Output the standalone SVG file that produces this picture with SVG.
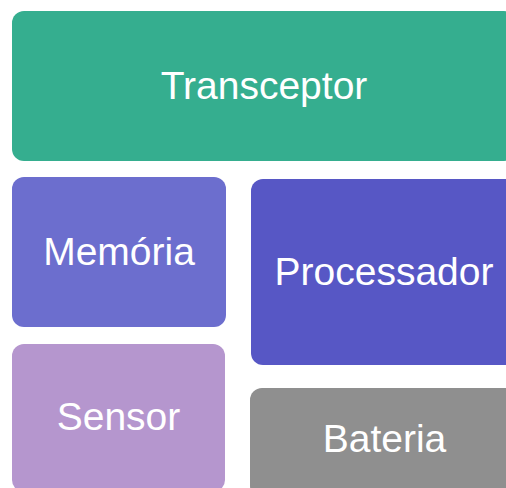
<svg xmlns="http://www.w3.org/2000/svg" width="506" height="488" viewBox="0 0 506 488">
  <style>
    .box { stroke: none; }
    .label { fill: #ffffff; font-family: "Liberation Sans", Arial, sans-serif; font-size: 39px; text-anchor: middle; }
  </style>
  <rect width="506" height="488" fill="#ffffff"/>
  <g id="transceptor">
    <rect class="box" x="12" y="11" width="504" height="150" rx="12" fill="#35AE8F"/>
    <text class="label" x="264" y="99">Transceptor</text>
  </g>
  <g id="memoria">
    <rect class="box" x="12" y="177" width="214" height="150" rx="12" fill="#6C6ECE"/>
    <text class="label" x="119" y="265">Memória</text>
  </g>
  <g id="processador">
    <rect class="box" x="251" y="179" width="266" height="186" rx="12" fill="#5757C5"/>
    <text class="label" x="384" y="285">Processador</text>
  </g>
  <g id="sensor">
    <rect class="box" x="12" y="344" width="213" height="148" rx="12" fill="#B596CE"/>
    <text class="label" x="118.5" y="430">Sensor</text>
  </g>
  <g id="bateria">
    <rect class="box" x="250" y="388" width="268" height="110" rx="12" fill="#8F8F8F"/>
    <text class="label" x="384.5" y="452">Bateria</text>
  </g>
  <g id="connectors"/>
</svg>
